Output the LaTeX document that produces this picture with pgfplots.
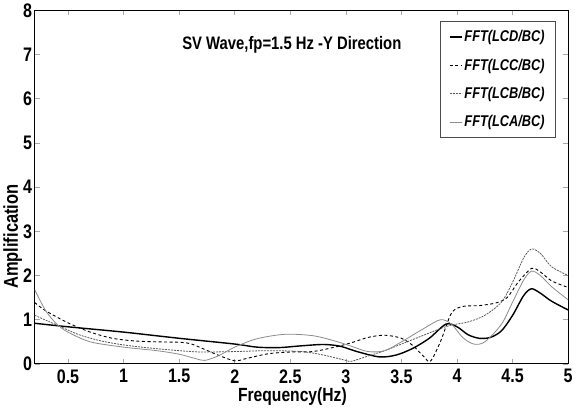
\documentclass[border=0pt]{standalone}
\usepackage{fontspec}
\setmainfont[FakeStretch=0.82]{Liberation Sans}
\usepackage{pgfplots}
\pgfplotsset{compat=1.18}
\begin{document}
\begin{tikzpicture}[x=1pt,y=1pt]
\begin{axis}[
  scale only axis,
  width=531pt, height=352pt,
  xmin=0.2, xmax=5, ymin=0, ymax=8,
  xtick={0.5,1,1.5,2,2.5,3,3.5,4,4.5,5},
  ytick={0,1,2,3,4,5,6,7,8},
  xticklabels={0.5,1,1.5,2,2.5,3,3.5,4,4.5,5},
  tick align=inside,
  major tick length=5pt,
  tick style={gray!70, line width=0.5pt},
  axis line style={black, line width=0.9pt},
  /pgf/number format/assume math mode=true,
  ticklabel style={font=\fontsize{19.5}{21}\selectfont\bfseries},
  xticklabel style={yshift=-2pt},
  yticklabel style={xshift=1pt},
  xlabel={Frequency(Hz)},
  xlabel style={font=\fontsize{19}{21}\selectfont\bfseries, yshift=3pt, xshift=-9pt},
  ylabel={Amplification},
  ylabel style={font=\fontsize{20}{22}\selectfont\bfseries, at={(rel axis cs:0,0.36)}, anchor=south, yshift=9pt},
  legend style={at={(0.977,0.969)}, anchor=north east, draw=black!70, line width=0.5pt,
    font=\fontsize{15.5}{18}\selectfont\bfseries\itshape, row sep=11.5pt, inner xsep=9pt, inner ysep=7pt,
    cells={anchor=west}},
  legend image code/.code={\draw[#1] (0pt,0pt) -- (12pt,0pt);},
  clip=true,
]
% LCD solid
\addplot[black, line width=1.4pt, smooth, tension=0.5] coordinates {
(0.2,0.92) (0.5,0.84) (1.0,0.72) (1.5,0.58) (2.0,0.45) (2.2,0.38) (2.4,0.37) (2.6,0.41) (2.8,0.44) (2.95,0.40) (3.1,0.28) (3.3,0.16) (3.45,0.2) (3.6,0.35) (3.75,0.58) (3.9,0.9) (4.0,0.84) (4.1,0.66) (4.2,0.58) (4.3,0.6) (4.4,0.75) (4.5,1.1) (4.6,1.55) (4.67,1.7) (4.75,1.6) (4.85,1.42) (5.0,1.22)};
\addlegendentry{FFT(LCD/BC)}
% LCC dashed
\addplot[black, line width=0.9pt, dash pattern=on 3pt off 2.5pt, smooth, tension=0.5] coordinates {
(0.2,1.39) (0.3,1.2) (0.5,0.93) (0.7,0.72) (0.9,0.58) (1.1,0.52) (1.3,0.5) (1.5,0.49) (1.6,0.46) (1.7,0.36) (1.85,0.2) (2.0,0.07) (2.1,0.12) (2.3,0.23) (2.5,0.27) (2.7,0.28) (2.9,0.38) (3.05,0.48) (3.2,0.6) (3.35,0.65) (3.5,0.58) (3.6,0.42) (3.7,0.17) (3.76,0.06) (3.85,0.5) (3.95,1.15) (4.05,1.3) (4.2,1.32) (4.35,1.38) (4.45,1.5) (4.55,1.85) (4.67,2.16) (4.75,2.08) (4.85,1.88) (5.0,1.73)};
\addlegendentry{FFT(LCC/BC)}
% LCB gray dashed
\addplot[black!65, line width=0.8pt, dash pattern=on 2pt off 1pt, smooth, tension=0.5] coordinates {
(0.2,1.1) (0.4,0.88) (0.6,0.66) (0.8,0.52) (1.0,0.43) (1.2,0.37) (1.5,0.3) (1.7,0.27) (2.0,0.28) (2.3,0.3) (2.6,0.28) (2.8,0.2) (3.0,0.08) (3.05,0.06) (3.2,0.18) (3.35,0.3) (3.5,0.45) (3.7,0.65) (3.85,0.8) (3.95,0.88) (4.1,0.95) (4.25,1.1) (4.4,1.4) (4.5,1.85) (4.6,2.4) (4.67,2.6) (4.75,2.5) (4.85,2.2) (5.0,2.0)};
\addlegendentry{FFT(LCB/BC)}
% LCA thin gray
\addplot[black!45, line width=0.8pt, smooth, tension=0.5] coordinates {
(0.2,1.68) (0.3,1.2) (0.4,0.9) (0.5,0.72) (0.7,0.5) (1.0,0.38) (1.3,0.3) (1.5,0.22) (1.65,0.12) (1.73,0.08) (1.85,0.18) (2.0,0.38) (2.2,0.57) (2.45,0.67) (2.7,0.64) (2.9,0.52) (3.05,0.4) (3.2,0.28) (3.35,0.3) (3.5,0.5) (3.7,0.8) (3.85,1.0) (3.95,0.9) (4.05,0.6) (4.15,0.45) (4.25,0.5) (4.4,0.9) (4.5,1.4) (4.6,1.9) (4.67,2.1) (4.75,2.0) (4.85,1.75) (5.0,1.45)};
\addlegendentry{FFT(LCA/BC)}
\node[font=\fontsize{18}{20}\selectfont\bfseries] at (rel axis cs:0.482,0.903) {SV Wave,fp=1.5 Hz -Y Direction};
\path (rel axis cs:1,1) ++(8pt,0pt);
\path (rel axis cs:0,0) ++(-37pt,0pt);
\end{axis}
\end{tikzpicture}
\end{document}
